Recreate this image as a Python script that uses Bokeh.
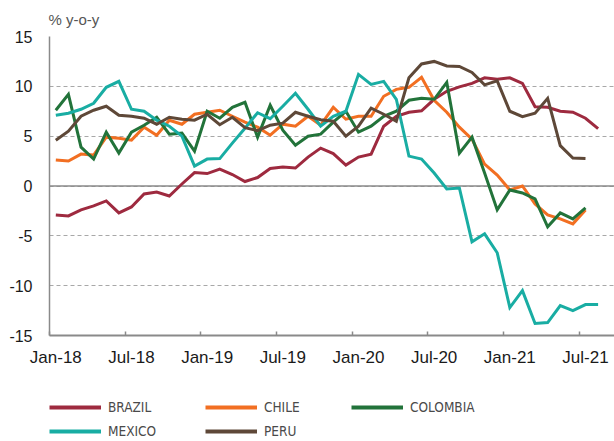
import pandas as pd
from bokeh.plotting import figure
from bokeh.layouts import column
from bokeh.models import (ColumnDataSource, FixedTicker, Range1d, Span,
                          Legend, LegendItem)
from bokeh.embed import file_html
from bokeh.resources import INLINE

# ---------------- data ----------------
months = pd.date_range("2018-01-01", "2021-08-01", freq="MS")
month_labels = list(months.strftime("%b-%y"))

brazil = [-2.9, -3.0, -2.4, -2.0, -1.5, -2.7, -2.1, -0.8, -0.6, -1.0, 0.2, 1.35,
          1.25, 1.7, 1.15, 0.45, 0.85, 1.75, 1.9, 1.8, 2.9, 3.8, 3.25, 2.1,
          2.9, 3.2, 6.0, 7.0, 7.4, 7.55, 8.7, 9.5, 9.95, 10.3, 10.85, 10.7,
          10.85, 10.3, 7.95, 7.9, 7.5, 7.4, 6.8, 5.75]
chile = [2.6, 2.5, 3.2, 3.1, 4.9, 4.8, 4.6, 5.9, 5.1, 6.6, 6.2, 7.2,
         7.4, 7.6, 7.0, 6.4, 5.9, 5.1, 6.2, 6.0, 7.0, 6.1, 7.9, 6.7,
         7.0, 7.0, 9.0, 9.7, 9.9, 10.9, 8.6, 7.4, 5.9, 4.7, 2.2, 1.1,
         -0.4, 0.0, -1.8, -2.9, -3.3, -3.8, -2.4]
colombia = [7.6, 9.2, 3.9, 2.7, 5.4, 3.3, 5.4, 6.1, 6.9, 5.2, 5.3, 3.5,
            7.5, 6.8, 7.9, 8.4, 4.9, 8.1, 5.6, 4.1, 5.0, 5.2, 6.4, 7.5,
            5.4, 6.0, 7.0, 7.5, 8.6, 8.8, 8.7, 10.4, 3.3, 4.9, 1.3, -2.4,
            -0.4, -0.7, -1.3, -4.1, -2.7, -3.3, -2.2]
mexico = [7.1, 7.3, 7.7, 8.3, 9.9, 10.5, 7.7, 7.5, 6.6, 6.0, 5.0, 2.0,
          2.7, 2.75, 4.3, 5.8, 7.35, 6.75, 8.0, 9.3, 7.7, 6.0, 7.0, 7.5,
          11.2, 10.2, 10.5, 8.7, 3.0, 2.7, 1.3, -0.3, -0.2, -5.6, -4.8, -6.7,
          -12.2, -10.5, -13.8, -13.7, -12.0, -12.5, -11.9, -11.9]
peru = [4.6, 5.5, 7.0, 7.6, 8.0, 7.1, 7.0, 6.8, 6.2, 6.9, 6.7, 6.6,
        7.2, 6.15, 6.9, 5.85, 5.55, 6.1, 6.3, 7.4, 7.0, 6.65, 6.5, 5.0,
        6.0, 7.8, 7.2, 6.5, 10.85, 12.25, 12.5, 12.05, 12.0, 11.4, 10.15, 10.55,
        7.5, 6.95, 7.3, 8.8, 4.05, 2.8, 2.75]

series_names = ["BRAZIL", "CHILE", "COLOMBIA", "MEXICO", "PERU"]
series_values = [brazil, chile, colombia, mexico, peru]
series_colors = ["#9e2a3f", "#f26f22", "#22733a", "#19ada3", "#5e4838"]

x_tick_labels = ["Jan-18", "Jul-18", "Jan-19", "Jul-19",
                 "Jan-20", "Jul-20", "Jan-21", "Jul-21"]
y_ticks = [-15, -10, -5, 0, 5, 10, 15]
y_tick_labels = ["-15", "-10", "-5", "0", "5", "10", "15"]
unit_label = "% y-o-y"

sources = {n: ColumnDataSource(dict(x=list(range(len(v))), y=v))
           for n, v in zip(series_names, series_values)}

# ---------------- main chart ----------------
FONT = "Liberation Sans"
p = figure(width=614, height=380, output_backend="svg", toolbar_location=None,
           x_range=Range1d(-0.5, 44.3), y_range=Range1d(-15, 15),
           min_border_left=49, min_border_right=0, min_border_top=33,
           min_border_bottom=45, title=unit_label)
p.outline_line_color = None
p.background_fill_color = "white"
p.border_fill_color = "white"

p.title.align = "left"
p.title.offset = -1
p.title.text_font = FONT
p.title.text_font_size = "15px"
p.title.text_font_style = "normal"
p.title.text_color = "#555555"
p.title.standoff = 17

for name, col in zip(series_names, series_colors):
    p.line("x", "y", source=sources[name], line_width=3, line_color=col,
           line_join="miter")

# grid
p.xgrid.grid_line_color = None
p.ygrid.ticker = FixedTicker(ticks=y_ticks)
p.ygrid.grid_line_color = "#a8a8a8"
p.ygrid.grid_line_dash = "4 3"
p.ygrid.grid_line_width = 1.2
p.ygrid.level = "underlay"

p.add_layout(Span(location=0, dimension="width", line_color="#8a8a8a",
                  line_width=1.5, level="underlay"))

# x axis
tick_pos = [month_labels.index(t) for t in x_tick_labels]
xa = p.xaxis[0]
xa.ticker = FixedTicker(ticks=tick_pos, minor_ticks=[t - 0.5 for t in tick_pos])
xa.major_label_overrides = {t: lab for t, lab in zip(tick_pos, x_tick_labels)}
xa.major_tick_line_color = None
xa.major_tick_in = 0
xa.major_tick_out = 0
xa.minor_tick_in = 4
xa.minor_tick_out = 0
xa.minor_tick_line_color = "#8a8a8a"
xa.minor_tick_line_width = 1.5
xa.axis_line_color = "#8a8a8a"
xa.axis_line_width = 2
xa.major_label_text_font = FONT
xa.major_label_text_font_size = "17px"
xa.major_label_text_color = "#1a1a1a"
xa.major_label_standoff = 12

# y axis
ya = p.yaxis[0]
ya.ticker = FixedTicker(ticks=y_ticks, minor_ticks=[])
ya.major_label_overrides = {t: lab for t, lab in zip(y_ticks, y_tick_labels)}
ya.major_tick_line_color = None
ya.major_tick_in = 0
ya.major_tick_out = 0
ya.minor_tick_line_color = None
ya.axis_line_color = "#8a8a8a"
ya.axis_line_width = 1.5
ya.major_label_text_font = FONT
ya.major_label_text_font_size = "16px"
ya.major_label_text_color = "#1a1a1a"
ya.major_label_standoff = 17

# ---------------- legend strip ----------------
# The series are drawn here too, but far outside the visible range, so that
# only their legend swatches appear.
leg = figure(width=614, height=61, output_backend="svg", toolbar_location=None,
             x_range=Range1d(0, 1), y_range=Range1d(1000, 1001),
             x_axis_location=None, y_axis_location=None,
             min_border=0, min_border_left=0, min_border_right=0,
             min_border_top=0, min_border_bottom=0)
leg.outline_line_color = None
leg.xgrid.grid_line_color = None
leg.ygrid.grid_line_color = None

swatch = {}
for name, col in zip(series_names, series_colors):
    swatch[name] = leg.line("x", "y", source=sources[name], line_width=4,
                            line_color=col)

LEG_FONT = "DejaVu Sans Condensed, Liberation Sans"
def make_legend(names, loc):
    lg = Legend(items=[LegendItem(label=n, renderers=[swatch[n]]) for n in names],
                location=loc, orientation="vertical", padding=0, margin=0,
                spacing=4, glyph_width=52, glyph_height=20, label_height=20,
                label_standoff=7, border_line_color=None,
                background_fill_alpha=0, label_text_font=LEG_FONT,
                label_text_font_size="13.5px", label_text_color="#4a4a4a")
    leg.add_layout(lg, "center")

make_legend(["BRAZIL", "MEXICO"], (0, 0))
make_legend(["CHILE", "PERU"], (156, 0))
make_legend(["COLOMBIA"], (302, 24))

page = column(p, leg, spacing=0)
open("out.html", "w").write(file_html(page, INLINE))
